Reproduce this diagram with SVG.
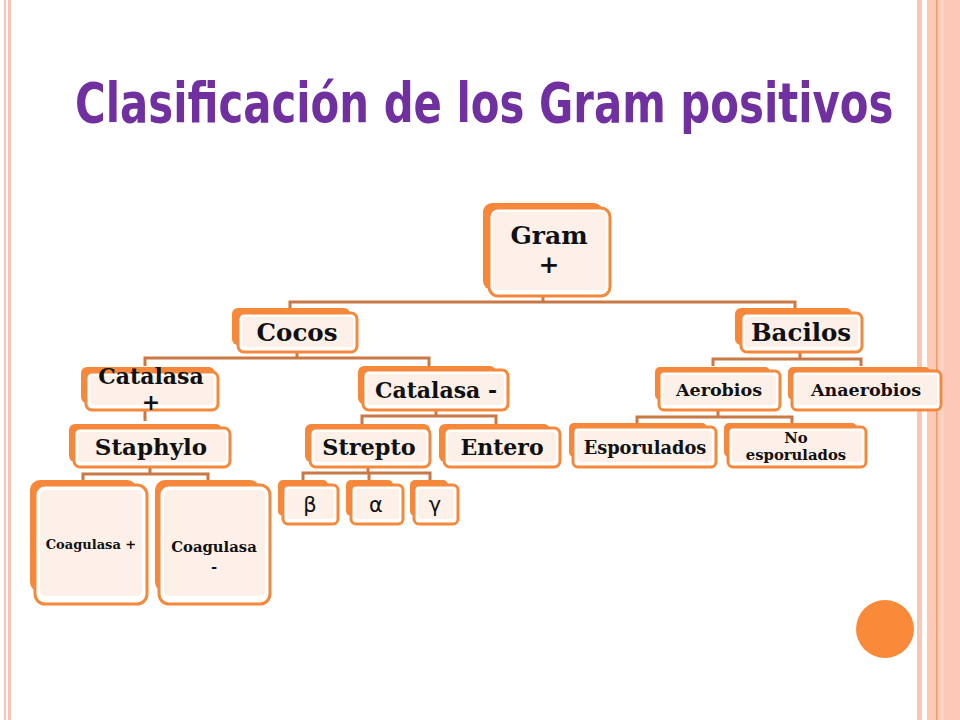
<svg xmlns="http://www.w3.org/2000/svg" width="960" height="720" viewBox="0 0 960 720">
<style>
.bk{fill:#F5883A}
.fr{fill:#FFFFFF;stroke:#F5883A;stroke-width:3}
.in{fill:#FDF0E8}
.t{font-family:"DejaVu Serif","Liberation Serif",serif;font-weight:bold;fill:#111;text-anchor:middle}
.g{font-family:"DejaVu Sans","Liberation Sans",sans-serif;font-weight:normal;fill:#111;text-anchor:middle;font-size:21px}
.cn{fill:none;stroke:#C97945;stroke-width:3}
.title{font-family:"DejaVu Sans Condensed","Liberation Sans",sans-serif;font-weight:bold;fill:#7030A0;font-size:46.5px}
</style>
<rect width="960" height="720" fill="#FFFFFF"/>
<g id="borders">
<rect x="4" y="0" width="2" height="720" fill="#F9C6B4"/>
<rect x="8" y="0" width="3" height="720" fill="#F9C6B4"/>
<rect x="917" y="0" width="5" height="720" fill="#F9C6B4"/>
<rect x="927" y="0" width="33" height="720" fill="#FBC9B6"/>
<rect x="936" y="0" width="1.5" height="720" fill="#EE9A6E"/>
<rect x="939" y="0" width="5" height="720" fill="#FCD3C3"/>
</g>
<text class="title" transform="translate(75,122) scale(1,1.18)" x="0" y="0">Clasificación de los Gram positivos</text>
<circle id="dot" cx="885" cy="629" r="29" fill="#F98A3A"/>

<g id="connectors">
<path class="cn" d="M543 296V302M290 310V302H795V310"/>
<path class="cn" d="M297 352V358M145 366V358H429V366"/>
<path class="cn" d="M145 410V421"/>
<path class="cn" d="M436 410V416M362 424V416H496V424"/>
<path class="cn" d="M150 467V474M83 480V474H208V480"/>
<path class="cn" d="M368 467V473M303 480V473H430V480M369 473V480"/>
<path class="cn" d="M800 352V359M713 366V359H861V366"/>
<path class="cn" d="M718 410V417M637 425V417H792V425"/>
</g>

<g id="gram">
<rect class="bk" x="483" y="203" width="120" height="87" rx="9"/>
<rect class="fr" x="489" y="208" width="121" height="88" rx="9"/>
<rect class="in" x="493" y="212" width="113" height="78" rx="4"/>
<text class="t" x="549" y="244" font-size="25">Gram</text>
<text class="t" x="549" y="273" font-size="25">+</text>
</g>

<g id="cocos">
<rect class="bk" x="232" y="308" width="118" height="37" rx="6"/>
<rect class="fr" x="238" y="313" width="119" height="39" rx="6"/>
<rect class="in" x="242" y="317" width="111" height="30" rx="3"/>
<text class="t" x="297" y="341" font-size="24.5">Cocos</text>
</g>

<g id="bacilos">
<rect class="bk" x="735" y="308" width="117" height="37" rx="6"/>
<rect class="fr" x="741" y="313" width="121" height="39" rx="6"/>
<rect class="in" x="745" y="317" width="113" height="30" rx="3"/>
<text class="t" x="801" y="341" font-size="24.5">Bacilos</text>
</g>

<g id="catalasa-pos">
<rect class="bk" x="81" y="367" width="134" height="36" rx="6"/>
<rect class="fr" x="86" y="372" width="132" height="38" rx="6"/>
<rect class="in" x="90" y="376" width="124" height="29" rx="3"/>
<text class="t" x="151" y="384" font-size="22">Catalasa</text>
<text class="t" x="151" y="410" font-size="22">+</text>
</g>

<g id="catalasa-neg">
<rect class="bk" x="358" y="366" width="138" height="38" rx="6"/>
<rect class="fr" x="363" y="370" width="145" height="40" rx="6"/>
<rect class="in" x="367" y="374" width="137" height="31" rx="3"/>
<text class="t" x="436" y="398" font-size="22">Catalasa -</text>
</g>

<g id="staphylo">
<rect class="bk" x="69" y="424" width="153" height="38" rx="6"/>
<rect class="fr" x="74" y="428" width="156" height="39" rx="6"/>
<rect class="in" x="78" y="432" width="148" height="30" rx="3"/>
<text class="t" x="151" y="455" font-size="23">Staphylo</text>
</g>

<g id="strepto">
<rect class="bk" x="305" y="424" width="125" height="38" rx="6"/>
<rect class="fr" x="310" y="428" width="120" height="39" rx="6"/>
<rect class="in" x="314" y="432" width="112" height="30" rx="3"/>
<text class="t" x="369" y="455" font-size="22.4">Strepto</text>
</g>

<g id="entero">
<rect class="bk" x="439" y="424" width="111" height="38" rx="6"/>
<rect class="fr" x="444" y="428" width="116" height="39" rx="6"/>
<rect class="in" x="448" y="432" width="108" height="30" rx="3"/>
<text class="t" x="502" y="455" font-size="22">Entero</text>
</g>

<g id="coag-pos">
<rect class="bk" x="30" y="480" width="107" height="112" rx="10"/>
<rect class="fr" x="35" y="485" width="112" height="119" rx="10"/>
<rect class="in" x="40" y="490" width="102" height="106" rx="5"/>
<text class="t" x="91" y="549" font-size="13">Coagulasa +</text>
</g>

<g id="coag-neg">
<rect class="bk" x="155" y="480" width="105" height="112" rx="10"/>
<rect class="fr" x="159" y="485" width="111" height="119" rx="10"/>
<rect class="in" x="164" y="490" width="101" height="106" rx="5"/>
<text class="t" x="214" y="552" font-size="14.8">Coagulasa</text>
<text class="t" x="214" y="572" font-size="14.8">-</text>
</g>

<g id="beta">
<rect class="bk" x="278" y="480" width="50" height="36" rx="5"/>
<rect class="fr" x="283" y="485" width="55" height="39" rx="5"/>
<rect class="in" x="287" y="489" width="47" height="30" rx="3"/>
<text class="g" x="310" y="512">β</text>
</g>

<g id="alpha">
<rect class="bk" x="346" y="480" width="47" height="36" rx="5"/>
<rect class="fr" x="351" y="485" width="52" height="39" rx="5"/>
<rect class="in" x="355" y="489" width="44" height="30" rx="3"/>
<text class="g" x="376" y="512">α</text>
</g>

<g id="gamma">
<rect class="bk" x="410" y="480" width="38" height="36" rx="5"/>
<rect class="fr" x="414" y="485" width="44" height="39" rx="5"/>
<rect class="in" x="418" y="489" width="36" height="30" rx="3"/>
<text class="g" x="435" y="512">γ</text>
</g>

<g id="aerobios">
<rect class="bk" x="655" y="367" width="115" height="33" rx="5"/>
<rect class="fr" x="659" y="371" width="121" height="39" rx="5"/>
<rect class="in" x="663" y="375" width="113" height="30" rx="3"/>
<text class="t" x="719" y="396" font-size="17.5">Aerobios</text>
</g>

<g id="anaerobios">
<rect class="bk" x="788" y="367" width="142" height="33" rx="5"/>
<rect class="fr" x="792" y="371" width="149" height="39" rx="5"/>
<rect class="in" x="796" y="375" width="141" height="30" rx="3"/>
<text class="t" x="866" y="396" font-size="17.5">Anaerobios</text>
</g>

<g id="esporulados">
<rect class="bk" x="569" y="423" width="138" height="34" rx="5"/>
<rect class="fr" x="573" y="427" width="143" height="40" rx="5"/>
<rect class="in" x="577" y="431" width="135" height="31" rx="3"/>
<text class="t" x="645" y="454" font-size="17.8">Esporulados</text>
</g>

<g id="no-esporulados">
<rect class="bk" x="724" y="423" width="133" height="34" rx="5"/>
<rect class="fr" x="728" y="427" width="138" height="40" rx="5"/>
<rect class="in" x="732" y="431" width="130" height="31" rx="3"/>
<text class="t" x="796" y="443" font-size="14.8">No</text>
<text class="t" x="796" y="460" font-size="14.8">esporulados</text>
</g>
</svg>
